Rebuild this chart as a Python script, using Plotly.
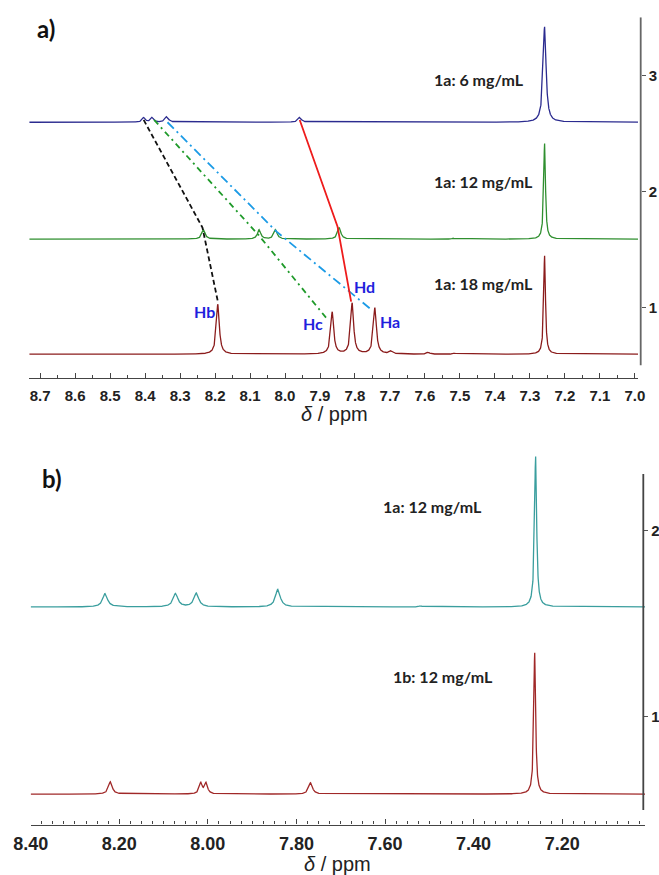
import numpy as np
import plotly.graph_objects as go

# ---------------- Panel a) peak tables (ppm, height above baseline, half-width) ----------------
a6_baseline = 2.60
a6_centers = [8.404, 8.380, 8.338, 7.958, 7.520, 7.258]
a6_heights = [0.040, 0.040, 0.049, 0.043, 0.006, 0.824]
a6_hwhm = [0.005, 0.005, 0.006, 0.006, 0.004, 0.0050]

a12_baseline = 1.59
a12_centers = [8.233, 8.074, 8.027, 7.845, 7.520, 7.258]
a12_heights = [0.081, 0.081, 0.081, 0.100, 0.008, 0.827]
a12_hwhm = [0.0055, 0.0055, 0.0055, 0.0055, 0.004, 0.0030]

a18_baseline = 0.595
a18_centers = [8.192, 7.865, 7.808, 7.743, 7.697, 7.591, 7.517, 7.258]
a18_heights = [0.432, 0.363, 0.440, 0.400, 0.025, 0.017, 0.010, 0.850]
a18_hwhm = [0.0050, 0.0050, 0.0050, 0.0050, 0.006, 0.005, 0.004, 0.0030]

# correlation lines (ppm, intensity)
hb_ppm = [8.404, 8.236, 8.192]
hb_val = [2.62, 1.69, 1.05]
hc_ppm = [8.374, 8.076, 7.877]
hc_val = [2.62, 1.626, 0.89]
ha_ppm = [8.336, 8.024, 7.757]
ha_val = [2.60, 1.654, 0.99]
hd_ppm = [7.958, 7.850, 7.811]
hd_val = [2.62, 1.70, 1.05]

# ---------------- Panel b) peak tables ----------------
b1a_baseline = 1.59
b1a_centers = [8.232, 8.073, 8.026, 7.842, 7.520, 7.260]
b1a_heights = [0.072, 0.072, 0.074, 0.095, 0.006, 0.810]
b1a_hwhm = [0.0065, 0.0065, 0.0065, 0.0065, 0.004, 0.0028]

b1b_baseline = 0.584
b1b_centers = [8.220, 8.016, 8.004, 7.768, 7.520, 7.262]
b1b_heights = [0.066, 0.058, 0.058, 0.061, 0.004, 0.760]
b1b_hwhm = [0.0050, 0.0040, 0.0040, 0.0050, 0.004, 0.0025]

a_labels = ["1a: 6 mg/mL", "1a: 12 mg/mL", "1a: 18 mg/mL"]
b_labels = ["1a: 12 mg/mL", "1b: 12 mg/mL"]
h_labels = ["Hb", "Hc", "Hd", "Ha"]

W, H = 659, 875


def spectrum(grid, base, centers, heights, hwhm):
    y = np.full_like(grid, base)
    for c, h, w in zip(centers, heights, hwhm):
        y += h / (1.0 + ((grid - c) / w) ** 2)
    return y


ga = np.arange(6.991, 8.7315, 0.0003)
gb = np.arange(7.013, 8.4005, 0.0003)

fig = go.Figure()
line_w = 1.3
fig.add_trace(go.Scatter(x=ga, y=spectrum(ga, a6_baseline, a6_centers, a6_heights, a6_hwhm),
                         mode="lines", line=dict(color="#2b2b8f", width=line_w), xaxis="x", yaxis="y"))
fig.add_trace(go.Scatter(x=ga, y=spectrum(ga, a12_baseline, a12_centers, a12_heights, a12_hwhm),
                         mode="lines", line=dict(color="#2f8f2f", width=line_w), xaxis="x", yaxis="y"))
fig.add_trace(go.Scatter(x=ga, y=spectrum(ga, a18_baseline, a18_centers, a18_heights, a18_hwhm),
                         mode="lines", line=dict(color="#8b1c1c", width=line_w), xaxis="x", yaxis="y"))

fig.add_trace(go.Scatter(x=hb_ppm, y=hb_val, mode="lines",
                         line=dict(color="#111111", width=1.8, dash="5px,3px"), xaxis="x", yaxis="y"))
fig.add_trace(go.Scatter(x=hc_ppm, y=hc_val, mode="lines",
                         line=dict(color="#1f9a2a", width=1.8, dash="6px,4px,2px,4px"), xaxis="x", yaxis="y"))
fig.add_trace(go.Scatter(x=ha_ppm, y=ha_val, mode="lines",
                         line=dict(color="#1c9be6", width=1.8, dash="9px,4px,2px,4px"), xaxis="x", yaxis="y"))
fig.add_trace(go.Scatter(x=hd_ppm, y=hd_val, mode="lines",
                         line=dict(color="#ee1c1c", width=1.8), xaxis="x", yaxis="y"))

fig.add_trace(go.Scatter(x=gb, y=spectrum(gb, b1a_baseline, b1a_centers, b1a_heights, b1a_hwhm),
                         mode="lines", line=dict(color="#3a9e9e", width=line_w), xaxis="x2", yaxis="y2"))
fig.add_trace(go.Scatter(x=gb, y=spectrum(gb, b1b_baseline, b1b_centers, b1b_heights, b1b_hwhm),
                         mode="lines", line=dict(color="#a02828", width=line_w), xaxis="x2", yaxis="y2"))


def py(px):
    return 1 - px / H


def pxx(px):
    return px / W


tick_font_a = dict(family="Liberation Sans, Arial", size=15, color="#222222", weight="bold")
tick_font_b = dict(family="Liberation Sans, Arial", size=18, color="#222222", weight="bold")

fig.update_layout(
    width=W, height=H, margin=dict(l=0, r=0, t=0, b=0),
    paper_bgcolor="white", plot_bgcolor="white", showlegend=False,
    xaxis=dict(domain=[pxx(29.3), pxx(638)], range=[8.731, 6.991], anchor="y",
               tick0=7.0, dtick=0.1, tickformat=".1f", ticks="inside", ticklen=5,
               tickcolor="#444444", tickwidth=1.2,
               minor=dict(dtick=0.05, ticks="inside", ticklen=3, tickcolor="#444444"),
               showline=True, linecolor="#444444", linewidth=1.4, showgrid=False,
               zeroline=False, tickfont=tick_font_a, ticklabelstandoff=3, automargin=False),
    yaxis=dict(domain=[py(378.3), py(17.3)], range=[0.387, 3.507], anchor="free",
               position=pxx(640.7), side="right", tickvals=[1, 2, 3], ticks="outside",
               ticklen=4, tickcolor="#555555", showline=False, showgrid=False,
               zeroline=False, automargin=False,
               tickfont=dict(family="Liberation Sans, Arial", size=15,
                             color="#222222", weight="bold")),
    xaxis2=dict(domain=[pxx(30.7), pxx(645)], range=[8.40, 7.013], anchor="y2",
                tick0=7.2, dtick=0.2, tickformat=".2f", ticks="inside", ticklen=5,
                tickcolor="#444444", tickwidth=1.2,
                minor=dict(dtick=0.025, ticks="inside", ticklen=3, tickcolor="#444444"),
                showline=True, linecolor="#444444", linewidth=1.4, showgrid=False,
                zeroline=False, tickfont=tick_font_b, ticklabelstandoff=3, automargin=False),
    yaxis2=dict(domain=[py(824.5), py(450)], range=[0.4204, 2.434], anchor="free",
                position=pxx(643.3), side="right", tickvals=[1, 2], ticks="outside",
                ticklen=4, tickcolor="#555555", showline=False, showgrid=False,
                zeroline=False, automargin=False,
                tickfont=dict(family="Liberation Sans, Arial", size=15,
                              color="#222222", weight="bold")),
)

# right-hand axis lines
fig.add_shape(type="line", xref="paper", yref="y", x0=pxx(640.7), x1=pxx(640.7),
              y0=0.5, y1=3.507, line=dict(color="#666666", width=1.8))
fig.add_shape(type="line", xref="paper", yref="y2", x0=pxx(643.3), x1=pxx(643.3),
              y0=0.498, y1=2.305, line=dict(color="#444444", width=1.8))

lab_font = dict(family="Lato, Open Sans", size=16, color="#222222", weight="bold")
for text, ypx in zip(a_labels, [80, 181, 284]):
    fig.add_annotation(text=text, xref="paper", yref="paper", x=pxx(432), y=py(ypx),
                       xanchor="left", yanchor="middle", showarrow=False, font=lab_font)
for text, xpx, ypx in zip(b_labels, [381, 391], [506.7, 676.7]):
    fig.add_annotation(text=text, xref="paper", yref="paper", x=pxx(xpx), y=py(ypx),
                       xanchor="left", yanchor="middle", showarrow=False, font=lab_font)

h_font = dict(family="Lato, Open Sans", size=16, color="#1f1fdd", weight="bold")
for text, xpx, ypx in zip(h_labels, [204.4, 312.5, 364.5, 389.5], [311.7, 323.3, 286.7, 321]):
    fig.add_annotation(text=text, xref="paper", yref="paper", x=pxx(xpx), y=py(ypx),
                       xanchor="center", yanchor="middle", showarrow=False, font=h_font)

panel_font = dict(family="Lato, Open Sans", size=24, color="#111111", weight="bold")
fig.add_annotation(text="a)", xref="paper", yref="paper", x=pxx(46), y=py(29),
                   xanchor="center", yanchor="middle", showarrow=False, font=panel_font)
fig.add_annotation(text="b)", xref="paper", yref="paper", x=pxx(52), y=py(478),
                   xanchor="center", yanchor="middle", showarrow=False, font=panel_font)

title_font = dict(family="Liberation Sans, Arial", size=20, color="#222222")
fig.add_annotation(text="<i>δ</i> / ppm", xref="paper", yref="paper", x=pxx(334), y=py(414),
                   xanchor="center", yanchor="middle", showarrow=False, font=title_font)
fig.add_annotation(text="<i>δ</i> / ppm", xref="paper", yref="paper", x=pxx(337), y=py(864),
                   xanchor="center", yanchor="middle", showarrow=False, font=title_font)

fig.write_html("out.html")
